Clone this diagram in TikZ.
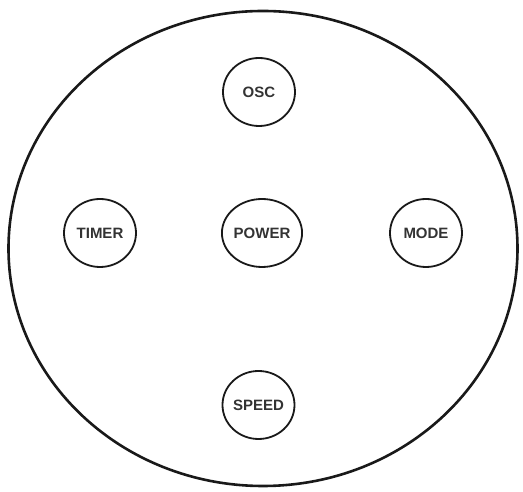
\documentclass[tikz,border=0pt]{standalone}
\usepackage{fontspec}
\setmainfont{Liberation Sans}
\usetikzlibrary{shapes.geometric}
\begin{document}
\begin{tikzpicture}[x=1pt,y=1pt,
  btn/.style={draw=black!90, line width=1.8pt, ellipse, minimum width=72pt, minimum height=68pt, inner sep=0pt,
    font=\fontsize{15}{15}\selectfont\bfseries, text=black!80}]
\useasboundingbox (0,0) rectangle (523,492);
\node[draw=black!90, line width=2.6pt, ellipse, minimum width=509pt, minimum height=475pt, inner sep=0pt] (outer) at (263,243.5) {};
\node[btn] (osc) at (259,400) {OSC};
\node[btn] (timer) at (100,259) {TIMER};
\node[btn] (power) at (262,259) {POWER};
\node[btn] (mode) at (426,259) {MODE};
\node[btn] (speed) at (258.5,87) {SPEED};
\end{tikzpicture}
\end{document}
